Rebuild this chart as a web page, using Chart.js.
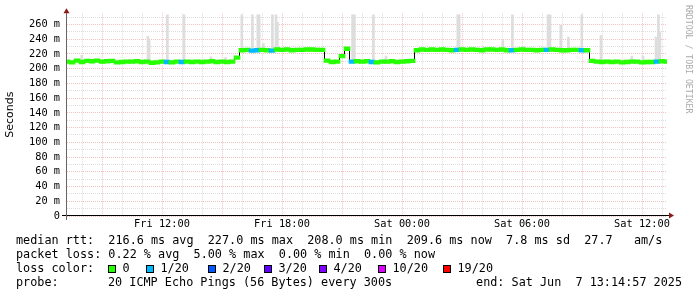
<!DOCTYPE html>
<html>
<head>
<meta charset="utf-8">
<script src="https://cdn.jsdelivr.net/npm/chart.js@4/dist/chart.umd.min.js"></script>
<style>
  html, body { margin: 0; padding: 0; background: #fff; }
  #wrap { width: 697px; height: 297px; }
</style>
</head>
<body>
<div id="wrap"><canvas id="chart" width="697" height="297"></canvas></div>
<script>
// time axis is in hours since Fri 00:00, one sample every 15 minutes
const startHour = 7.25;
const stepHours = 0.25;
const spanHours = 30;

// median rtt in ms
const medianRtt = [
  209.5, 208.5, 211.0, 209.0, 210.5, 210.0, 211.0, 209.5, 210.0, 210.5,
  208.5, 209.0, 209.5, 209.5, 210.0, 209.0, 209.5, 208.0, 208.5, 209.5,
  209.0, 208.5, 209.5, 209.0, 209.5, 209.0, 209.5, 209.0, 209.5, 210.0,
  209.0, 209.5, 209.0, 209.5, 215.0, 225.0, 225.5, 224.5, 225.0, 225.5,
  225.0, 224.5, 226.0, 225.5, 226.0, 225.0, 225.5, 225.5, 226.0, 226.0,
  225.5, 225.5, 211.0, 209.0, 209.5, 217.0, 227.0, 209.5, 210.0, 209.5,
  210.0, 209.0, 208.5, 209.5, 209.5, 210.0, 209.0, 209.5, 210.0, 210.5,
  225.0, 226.0, 225.5, 226.0, 225.5, 226.0, 225.5, 225.0, 225.5, 226.0,
  225.5, 226.0, 225.5, 225.0, 226.0, 226.0, 225.5, 226.0, 225.0, 225.0,
  225.5, 226.0, 225.5, 225.5, 225.0, 225.5, 225.5, 226.0, 225.5, 225.0,
  225.0, 225.5, 225.5, 225.0, 225.0, 210.5, 209.5, 209.0, 209.5, 209.0,
  209.5, 208.5, 209.0, 209.5, 209.5, 208.5, 209.0, 209.0, 209.5, 210.0,
  209.6
];

// pings lost out of 20 for each sample
const lossCount = [
  0, 0, 0, 0, 0, 0, 0, 0, 0, 0,
  0, 0, 0, 0, 0, 0, 0, 0, 0, 0,
  1, 0, 0, 1, 0, 0, 0, 0, 0, 0,
  0, 0, 0, 0, 0, 0, 0, 1, 1, 0,
  0, 1, 0, 0, 0, 0, 0, 0, 0, 0,
  0, 0, 0, 0, 0, 0, 0, 1, 0, 0,
  0, 1, 0, 0, 0, 0, 0, 0, 0, 0,
  0, 0, 0, 0, 0, 0, 0, 0, 1, 0,
  0, 0, 0, 0, 0, 0, 0, 0, 0, 1,
  0, 0, 0, 0, 0, 0, 1, 0, 0, 0,
  0, 0, 0, 1, 0, 0, 0, 0, 0, 0,
  0, 0, 0, 0, 0, 0, 0, 0, 1, 0,
  0
];

// smoke (spread of the single pings), only where it sticks out of the median band
const smokeHours = [
  7.99, 11.30, 11.36, 12.27, 13.10, 14.45, 15.18, 15.99, 16.52, 16.79,
  16.86, 17.07, 17.52, 17.70, 17.77, 21.53, 21.62, 22.57, 23.20, 26.79,
  26.86, 28.05, 29.04, 29.52, 30.04, 30.10, 31.30, 31.40, 31.94, 32.32,
  32.99, 33.95, 35.49, 36.05, 36.70, 36.82, 36.89
];
const smokeLow = [
  209, 210, 210, 209, 209, 209, 209, 225, 225, 225,
  225, 225, 225, 225, 225, 209, 209, 209, 209, 225,
  225, 225, 225, 225, 225, 225, 225, 225, 225, 225,
  225, 209, 209, 209, 209, 209, 209
];
const smokeHigh = [
  218, 244, 238, 273, 273, 216, 215, 273, 273, 273,
  273, 234, 273, 273, 263, 273, 273, 273, 217, 273,
  273, 230, 238, 273, 230, 230, 273, 273, 259, 243,
  273, 245, 217, 217, 243, 273, 250
];

const labelHours = [12, 18, 24, 30, 36];
const labelTexts = ['Fri 12:00', 'Fri 18:00', 'Sat 00:00', 'Sat 06:00', 'Sat 12:00'];

const lossLevels = [0, 1, 2, 3, 4, 10, 19];
const lossLabels = ['0', '1/20', '2/20', '3/20', '4/20', '10/20', '19/20'];
const lossColors = ['#26ff00', '#00b8ff', '#0059ff', '#5e00ff', '#7e00ff', '#dd00ff', '#ff0000'];

const statLines = [
  'median rtt:  216.6 ms avg  227.0 ms max  208.0 ms min  209.6 ms now  7.8 ms sd  27.7   am/s',
  'packet loss: 0.22 % avg  5.00 % max  0.00 % min  0.00 % now'
];
const probeText = '20 ICMP Echo Pings (56 Bytes) every 300s';
const endText = 'end: Sat Jun  7 13:14:57 2025';

const MONO = '"DejaVu Sans Mono", monospace';
const GRID_MAJOR = 'rgba(225, 110, 110, 0.42)';
const GRID_MINOR = 'rgba(175, 175, 175, 0.42)';

function colorForLoss(n) {
  let c = lossColors[0];
  lossLevels.forEach((lvl, i) => { if (n >= lvl) c = lossColors[i]; });
  return c;
}

const sampleHours = medianRtt.map((_, i) => startHour + i * stepHours);

// axes, arrows, legend and side texts, drawn the rrdtool way
const decorPlugin = {
  id: 'rrdDecor',
  afterDraw(chart) {
    const { ctx, chartArea: a } = chart;
    ctx.save();

    ctx.lineWidth = 1;
    ctx.strokeStyle = '#000';
    ctx.beginPath();
    ctx.moveTo(62, a.bottom - 0.5);
    ctx.lineTo(a.right + 3, a.bottom - 0.5);
    ctx.stroke();
    ctx.strokeStyle = '#666';
    ctx.beginPath();
    ctx.moveTo(a.left - 0.5, a.top);
    ctx.lineTo(a.left - 0.5, a.bottom + 4);
    ctx.stroke();

    ctx.fillStyle = '#8b1a1a';
    ctx.beginPath();
    ctx.moveTo(a.left - 3.5, a.top);
    ctx.lineTo(a.left + 2.5, a.top);
    ctx.lineTo(a.left - 0.5, a.top - 5);
    ctx.closePath();
    ctx.fill();
    ctx.beginPath();
    ctx.moveTo(a.right + 2, a.bottom - 3.5);
    ctx.lineTo(a.right + 2, a.bottom + 2.5);
    ctx.lineTo(a.right + 7, a.bottom - 0.5);
    ctx.closePath();
    ctx.fill();

    // y axis title
    ctx.save();
    ctx.translate(10, (a.top + a.bottom) / 2);
    ctx.rotate(-Math.PI / 2);
    ctx.font = '11px "DejaVu Sans", sans-serif';
    ctx.fillStyle = '#000';
    ctx.textAlign = 'center';
    ctx.textBaseline = 'middle';
    ctx.fillText('Seconds', 0, 0);
    ctx.restore();

    // watermark
    ctx.save();
    ctx.translate(688.5, 5);
    ctx.rotate(Math.PI / 2);
    ctx.font = '8.2px ' + MONO;
    ctx.fillStyle = '#aaa';
    ctx.textAlign = 'left';
    ctx.textBaseline = 'middle';
    ctx.fillText('RRDTOOL / TOBI OETIKER', 0, 0);
    ctx.restore();

    // legend
    ctx.font = '11.8px ' + MONO;
    ctx.fillStyle = '#000';
    ctx.textBaseline = 'middle';
    ctx.textAlign = 'left';
    ctx.fillText(statLines[0], 16, 241);
    ctx.fillText(statLines[1], 16, 255);
    ctx.fillText('loss color:', 16, 269);
    const boxX = [108, 146, 208, 264, 319, 378, 443];
    lossLabels.forEach((lbl, i) => {
      ctx.fillStyle = lossColors[i];
      ctx.fillRect(boxX[i], 265, 8, 8);
      ctx.strokeStyle = '#000';
      ctx.strokeRect(boxX[i] + 0.5, 265.5, 7, 7);
      ctx.fillStyle = '#000';
      ctx.fillText(lbl, boxX[i] + 14.5, 269);
    });
    ctx.fillText('probe:', 16, 283);
    ctx.fillText(probeText, 108, 283);
    ctx.textAlign = 'right';
    ctx.fillText(endText, 682, 283);

    ctx.restore();
  }
};

new Chart(document.getElementById('chart'), {
  type: 'bar',
  data: {
    datasets: [
      {
        type: 'bar',
        data: medianRtt.map((v, i) => ({ x: sampleHours[i], y: [v - 2.5, v + 2.5] })),
        backgroundColor: lossCount.map(colorForLoss),
        borderWidth: 0,
        barThickness: 6,
        grouped: false,
        order: 1
      },
      {
        type: 'line',
        data: medianRtt.map((v, i) => ({ x: sampleHours[i], y: v })),
        borderColor: '#000',
        borderWidth: 1,
        pointRadius: 0,
        stepped: 'middle',
        order: 2
      },
      {
        type: 'bar',
        data: smokeHours.map((h, i) => ({ x: h, y: [smokeLow[i], smokeHigh[i]] })),
        backgroundColor: '#dddddd',
        borderWidth: 0,
        barThickness: 2,
        grouped: false,
        order: 3
      }
    ]
  },
  options: {
    responsive: false,
    animation: false,
    layout: { padding: { left: 0, right: 30, top: 13, bottom: 0 } },
    plugins: { legend: { display: false }, tooltip: { enabled: false } },
    scales: {
      x: {
        type: 'linear',
        min: startHour,
        max: startHour + spanHours,
        offset: false,
        afterBuildTicks: (s) => {
          s.ticks = [];
          for (let h = Math.ceil(startHour); h <= startHour + spanHours; h++) s.ticks.push({ value: h });
        },
        afterFit: (s) => { s.height = 81; },
        grid: {
          offset: false,
          drawTicks: false,
          color: (c) => (c.tick && c.tick.value % 3 === 0 ? GRID_MAJOR : GRID_MINOR)
        },
        border: { display: false, dash: [1, 1] },
        ticks: {
          autoSkip: false,
          maxRotation: 0,
          minRotation: 0,
          padding: 2,
          color: '#000',
          font: { family: MONO, size: 10.3 },
          callback: (v) => {
            const k = labelHours.indexOf(v);
            return k >= 0 ? labelTexts[k] : '';
          }
        }
      },
      y: {
        min: 0,
        max: 275.3,
        afterBuildTicks: (s) => {
          s.ticks = [];
          for (let v = 0; v <= 270; v += 10) s.ticks.push({ value: v });
        },
        afterFit: (s) => { s.width = 67; },
        grid: {
          drawTicks: false,
          color: (c) => (c.tick && c.tick.value % 20 === 0 ? GRID_MAJOR : GRID_MINOR)
        },
        border: { display: false, dash: [1, 1] },
        ticks: {
          autoSkip: false,
          padding: 7,
          color: '#000',
          font: { family: MONO, size: 10.3 },
          callback: (v) => (v % 20 === 0 ? (v === 0 ? '0' : v + ' m') : '')
        }
      }
    }
  },
  plugins: [decorPlugin]
});
</script>
</body>
</html>
